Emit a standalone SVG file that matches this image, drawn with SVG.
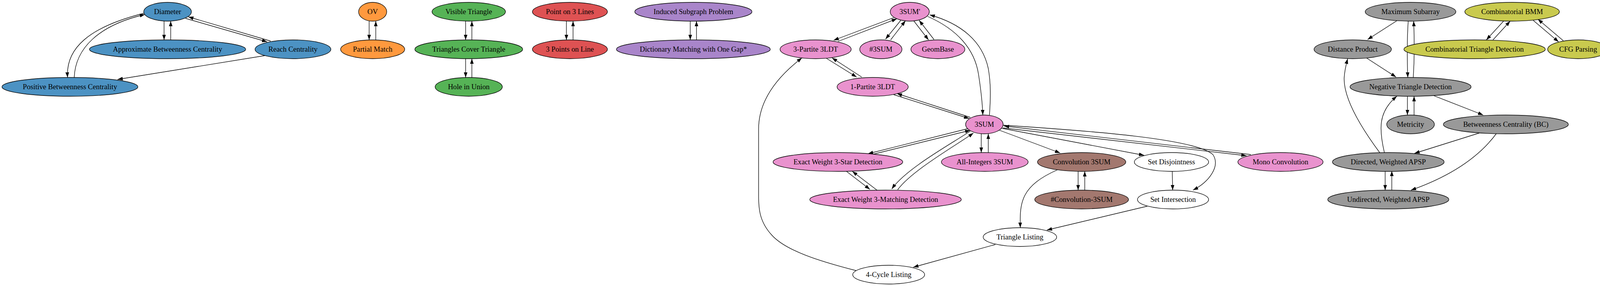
<svg xmlns="http://www.w3.org/2000/svg" width="4225" height="731" viewBox="0 0 4225 731">
<style>
.node ellipse{stroke:#000;stroke-width:1.33}
.node text{font-family:"Liberation Serif","Times New Roman",serif;font-size:18.67px;text-anchor:middle;fill:#000}
.blue ellipse{fill:#4c92c3}
.orange ellipse{fill:#ff993e}
.green ellipse{fill:#56b356}
.red ellipse{fill:#de5253}
.purple ellipse{fill:#a985ca}
.pink ellipse{fill:#e992ce}
.brown ellipse{fill:#a3786f}
.gray ellipse{fill:#999999}
.olive ellipse{fill:#c9ca4e}
.white ellipse{fill:#ffffff}
#edges path{fill:none;stroke:#000;stroke-width:1.33;marker-end:url(#ah)}
</style>
<defs>
<marker id="ah" viewBox="0 0 10 7" refX="10" refY="3.5" markerWidth="13.3" markerHeight="9.3" markerUnits="userSpaceOnUse" orient="auto">
<path d="M0,0 L10,3.5 L0,7 z" fill="#000"/>
</marker>
</defs>
<rect width="4225" height="731" fill="#fff"/>
<g id="edges">
<path d="M420,53 L420,102"/>
<path d="M437,102 L437,54"/>
<path d="M475,47 L684,107"/>
<path d="M693,105 L482,43"/>
<path d="M368,34 C225,70 168,125 173,198"/>
<path d="M190,198 C193,125 250,65 371,37"/>
<path d="M679,142 L301,203"/>
<path d="M945,54 L945,102"/>
<path d="M962,102 L962,54"/>
<path d="M1192,54 L1192,102"/>
<path d="M1208,102 L1208,54"/>
<path d="M1192,150 L1192,198"/>
<path d="M1208,198 L1208,150"/>
<path d="M1450,54 L1450,102"/>
<path d="M1467,102 L1467,54"/>
<path d="M1767,54 L1767,102"/>
<path d="M1783,102 L1783,54"/>
<path d="M2288,45 L2134,103"/>
<path d="M2145,106 L2296,48"/>
<path d="M2306,52 L2267,100"/>
<path d="M2280,102 L2318,53"/>
<path d="M2339,53 L2377,102"/>
<path d="M2391,101 L2353,52"/>
<path d="M2375,42 C2450,75 2495,125 2505,190 C2512,235 2515,265 2516,294"/>
<path d="M2533,294 C2536,250 2537,215 2530,175 C2515,105 2460,60 2380,38"/>
<path d="M2114,148 L2193,197"/>
<path d="M2206,197 L2130,148"/>
<path d="M2288,242 L2481,303"/>
<path d="M2484,300 L2296,239"/>
<path d="M2477,329 L2222,393"/>
<path d="M2236,394 L2484,333"/>
<path d="M2484,335 C2440,365 2320,430 2283,483"/>
<path d="M2298,485 C2335,435 2450,370 2492,340"/>
<path d="M2167,438 L2227,484"/>
<path d="M2245,486 L2182,438"/>
<path d="M2512,342 L2512,390"/>
<path d="M2530,390 L2530,342"/>
<path d="M2559,333 L2714,391"/>
<path d="M2565,328 L2929,397"/>
<path d="M2568,327 L3191,398"/>
<path d="M3202,395 L2570,322"/>
<path d="M2568,320 C2800,335 3060,355 3105,395 C3125,425 3095,465 3054,486"/>
<path d="M3001,438 L3002,486"/>
<path d="M2760,438 L2760,486"/>
<path d="M2777,486 L2777,438"/>
<path d="M2707,434 C2615,475 2610,515 2612,582"/>
<path d="M2937,527 L2680,588"/>
<path d="M2548,625 L2338,683"/>
<path d="M2193,692 C2095,667 2010,640 1975,600 C1943,565 1942,530 1942,500 L1942,330 C1942,260 1985,200 2053,148"/>
<path d="M3576,53 L3501,101"/>
<path d="M3605,54 C3602,100 3602,150 3604,198"/>
<path d="M3618,198 C3621,150 3621,100 3619,54"/>
<path d="M3498,148 L3574,197"/>
<path d="M3603,246 L3603,294"/>
<path d="M3620,294 L3620,246"/>
<path d="M3669,244 L3797,294"/>
<path d="M3532,390 C3480,320 3440,250 3441,200 C3442,180 3446,165 3450,150"/>
<path d="M3544,390 C3530,330 3528,285 3576,246"/>
<path d="M3787,340 L3621,392"/>
<path d="M3831,341 C3780,410 3700,455 3612,486"/>
<path d="M3546,437 L3546,486"/>
<path d="M3563,486 L3563,437"/>
<path d="M3850,53 L3805,102"/>
<path d="M3822,102 L3866,54"/>
<path d="M3925,52 L3990,107"/>
<path d="M4002,104 L3937,49"/>
</g>
<g id="n-diameter" class="node blue"><ellipse cx="429" cy="30" rx="61" ry="24"/><text x="429" y="36">Diameter</text></g>
<g id="n-approx-bc" class="node blue"><ellipse cx="429" cy="126" rx="200" ry="24"/><text x="429" y="132">Approximate Betweenness Centrality</text></g>
<g id="n-reach" class="node blue"><ellipse cx="750" cy="126" rx="97" ry="24"/><text x="750" y="132">Reach Centrality</text></g>
<g id="n-positive-bc" class="node blue"><ellipse cx="179" cy="222" rx="174" ry="24"/><text x="179" y="228">Positive Betweenness Centrality</text></g>
<g id="n-ov" class="node orange"><ellipse cx="954" cy="30" rx="36" ry="24"/><text x="954" y="36">OV</text></g>
<g id="n-partial-match" class="node orange"><ellipse cx="954" cy="126" rx="82" ry="24"/><text x="954" y="132">Partial Match</text></g>
<g id="n-visible-triangle" class="node green"><ellipse cx="1200" cy="30" rx="94" ry="24"/><text x="1200" y="36">Visible Triangle</text></g>
<g id="n-triangles-cover" class="node green"><ellipse cx="1200" cy="126" rx="138" ry="24"/><text x="1200" y="132">Triangles Cover Triangle</text></g>
<g id="n-hole-in-union" class="node green"><ellipse cx="1200" cy="222" rx="86" ry="24"/><text x="1200" y="228">Hole in Union</text></g>
<g id="n-point-3-lines" class="node red"><ellipse cx="1459" cy="30" rx="96" ry="24"/><text x="1459" y="36">Point on 3 Lines</text></g>
<g id="n-3-points-line" class="node red"><ellipse cx="1459" cy="126" rx="96" ry="24"/><text x="1459" y="132">3 Points on Line</text></g>
<g id="n-induced-subgraph" class="node purple"><ellipse cx="1775" cy="30" rx="150" ry="24"/><text x="1775" y="36">Induced Subgraph Problem</text></g>
<g id="n-dictionary-matching" class="node purple"><ellipse cx="1775" cy="126" rx="197" ry="24"/><text x="1775" y="132">Dictionary Matching with One Gap*</text></g>
<g id="n-3sum-prime" class="node pink"><ellipse cx="2329" cy="30" rx="50" ry="24"/><text x="2329" y="36">3SUM'</text></g>
<g id="n-3partite-3ldt" class="node pink"><ellipse cx="2088" cy="126" rx="91" ry="24"/><text x="2088" y="132">3-Partite 3LDT</text></g>
<g id="n-count-3sum" class="node pink"><ellipse cx="2255" cy="126" rx="54" ry="24"/><text x="2255" y="132">#3SUM</text></g>
<g id="n-geombase" class="node pink"><ellipse cx="2401" cy="126" rx="69" ry="24"/><text x="2401" y="132">GeomBase</text></g>
<g id="n-1partite-3ldt" class="node pink"><ellipse cx="2234" cy="222" rx="91" ry="24"/><text x="2234" y="228">1-Partite 3LDT</text></g>
<g id="n-3sum" class="node pink"><ellipse cx="2520" cy="318" rx="48" ry="24"/><text x="2520" y="324">3SUM</text></g>
<g id="n-ew-3star" class="node pink"><ellipse cx="2145" cy="414" rx="166" ry="24"/><text x="2145" y="420">Exact Weight 3-Star Detection</text></g>
<g id="n-all-integers-3sum" class="node pink"><ellipse cx="2521" cy="414" rx="111" ry="24"/><text x="2521" y="420">All-Integers 3SUM</text></g>
<g id="n-convolution-3sum" class="node brown"><ellipse cx="2769" cy="414" rx="113" ry="24"/><text x="2769" y="420">Convolution 3SUM</text></g>
<g id="n-set-disjointness" class="node white"><ellipse cx="2999" cy="414" rx="95" ry="24"/><text x="2999" y="420">Set Disjointness</text></g>
<g id="n-mono-convolution" class="node pink"><ellipse cx="3278" cy="414" rx="109" ry="24"/><text x="3278" y="420">Mono Convolution</text></g>
<g id="n-ew-3matching" class="node pink"><ellipse cx="2267" cy="510" rx="194" ry="24"/><text x="2267" y="516">Exact Weight 3-Matching Detection</text></g>
<g id="n-count-convolution-3sum" class="node brown"><ellipse cx="2769" cy="510" rx="120" ry="24"/><text x="2769" y="516">#Convolution-3SUM</text></g>
<g id="n-set-intersection" class="node white"><ellipse cx="3003" cy="510" rx="91" ry="24"/><text x="3003" y="516">Set Intersection</text></g>
<g id="n-triangle-listing" class="node white"><ellipse cx="2611" cy="606" rx="94" ry="24"/><text x="2611" y="612">Triangle Listing</text></g>
<g id="n-4cycle-listing" class="node white"><ellipse cx="2275" cy="702" rx="92" ry="24"/><text x="2275" y="708">4-Cycle Listing</text></g>
<g id="n-max-subarray" class="node gray"><ellipse cx="3611" cy="30" rx="116" ry="24"/><text x="3611" y="36">Maximum Subarray</text></g>
<g id="n-comb-bmm" class="node olive"><ellipse cx="3871" cy="30" rx="121" ry="24"/><text x="3871" y="36">Combinatorial BMM</text></g>
<g id="n-distance-product" class="node gray"><ellipse cx="3463" cy="126" rx="99" ry="24"/><text x="3463" y="132">Distance Product</text></g>
<g id="n-comb-triangle" class="node olive"><ellipse cx="3775" cy="126" rx="181" ry="24"/><text x="3775" y="132">Combinatorial Triangle Detection</text></g>
<g id="n-cfg-parsing" class="node olive"><ellipse cx="4040" cy="126" rx="78" ry="24"/><text x="4040" y="132">CFG Parsing</text></g>
<g id="n-negative-triangle" class="node gray"><ellipse cx="3611" cy="222" rx="155" ry="24"/><text x="3611" y="228">Negative Triangle Detection</text></g>
<g id="n-metricity" class="node gray"><ellipse cx="3611" cy="318" rx="61" ry="24"/><text x="3611" y="324">Metricity</text></g>
<g id="n-bc" class="node gray"><ellipse cx="3855" cy="318" rx="160" ry="24"/><text x="3855" y="324">Betweenness Centrality (BC)</text></g>
<g id="n-directed-apsp" class="node gray"><ellipse cx="3554" cy="414" rx="143" ry="24"/><text x="3554" y="420">Directed, Weighted APSP</text></g>
<g id="n-undirected-apsp" class="node gray"><ellipse cx="3554" cy="510" rx="155" ry="24"/><text x="3554" y="516">Undirected, Weighted APSP</text></g>
</svg>
